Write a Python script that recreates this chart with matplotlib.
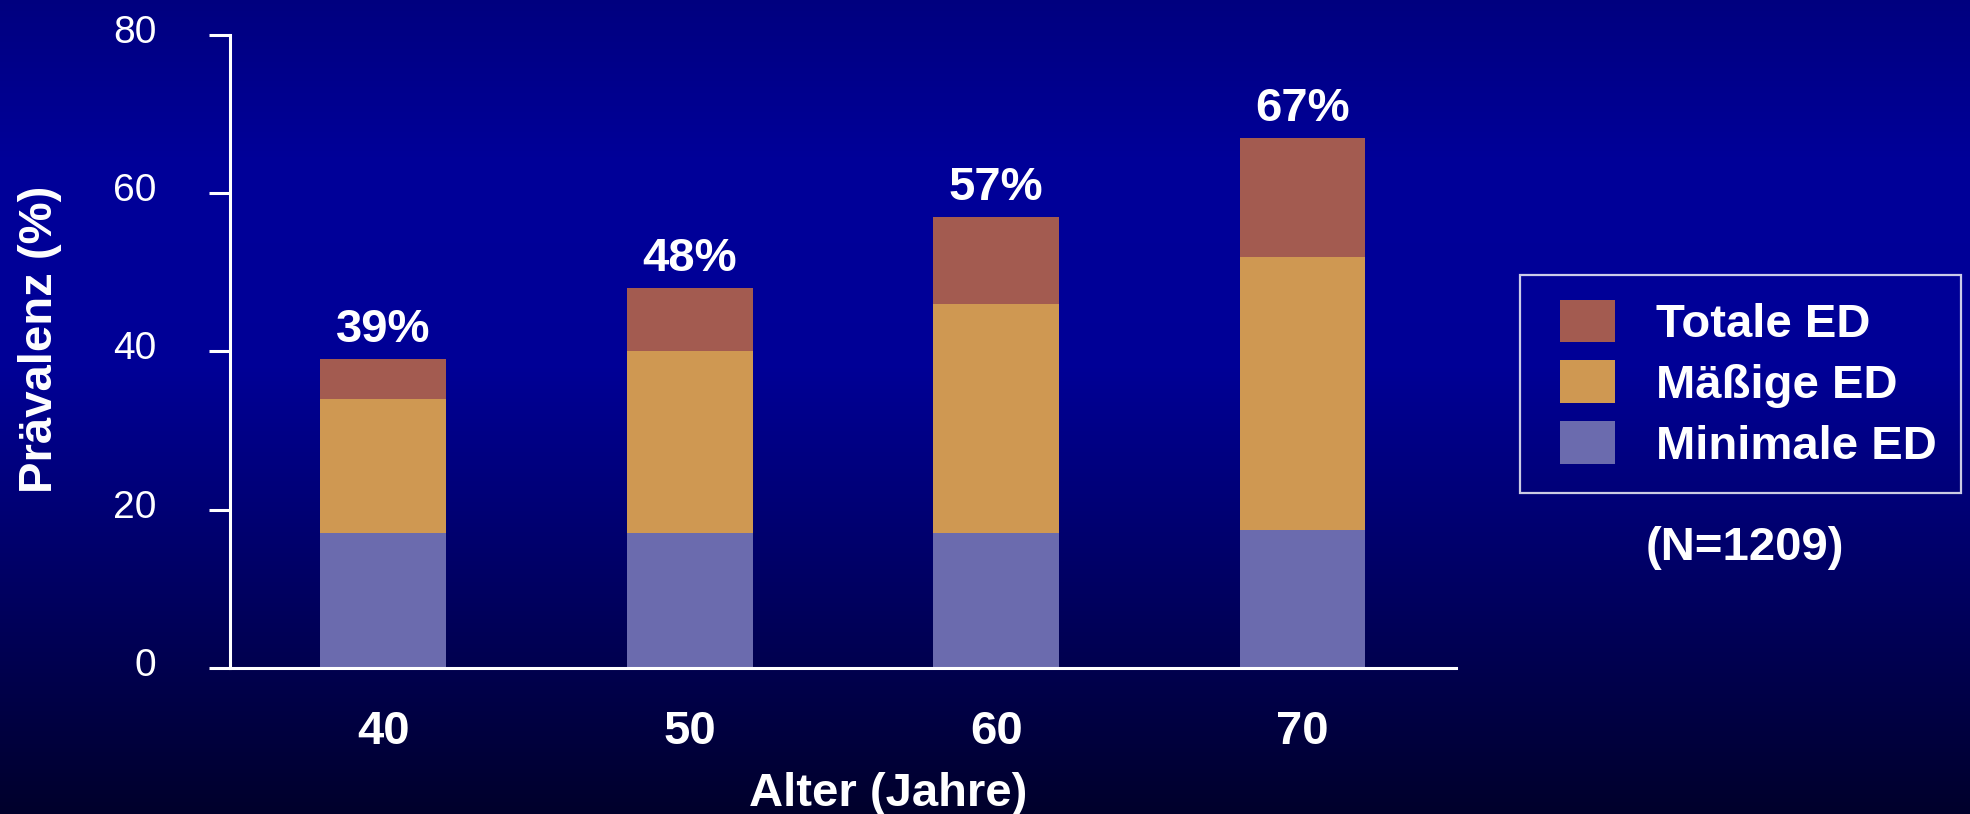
import matplotlib

matplotlib.use("Agg")

import matplotlib.pyplot as plt
import numpy as np
from matplotlib.legend_handler import HandlerPatch
from matplotlib.patches import Rectangle
from matplotlib.transforms import ScaledTranslation

# data
age_groups = ["40", "50", "60", "70"]
minimal_ed = [17.0, 17.0, 17.0, 17.5]
moderate_ed = [17.0, 23.0, 29.0, 34.5]
total_ed = [5.0, 8.0, 11.0, 15.0]
y_ticks = [0, 20, 40, 60, 80]
sample_note = "(N=1209)"

series_names = ["Minimale ED", "Mäßige ED", "Totale ED"]
series_colors = ["#6B6BAE", "#CF9852", "#A35B50"]

plt.rcParams["font.family"] = ["Liberation Sans", "DejaVu Sans"]
plt.rcParams["text.color"] = "white"

fig = plt.figure(figsize=(19.7, 8.14), dpi=100)

# vertical blue gradient behind everything
bg_ax = fig.add_axes([0, 0, 1, 1], zorder=-10)
stops_pos = [0.0, 0.2, 0.45, 0.7, 1.0]
stops_blue = [0.50, 0.60, 0.59, 0.40, 0.17]
rows = np.interp(np.linspace(0, 1, 400), stops_pos, stops_blue)
gradient = np.zeros((400, 1, 3))
gradient[:, 0, 2] = rows
bg_ax.imshow(gradient, aspect="auto", extent=[0, 1, 0, 1], interpolation="bilinear")
bg_ax.axis("off")

ax = fig.add_axes([0.1168, 0.1794, 0.6222, 0.7776])
ax.patch.set_alpha(0)

x = np.arange(len(age_groups))
bar_width = 0.41
bottom = np.zeros(len(age_groups))
handles = []
for name, values, color in zip(series_names, [minimal_ed, moderate_ed, total_ed], series_colors):
    bars = ax.bar(x, values, bar_width, bottom=bottom, color=color, label=name, linewidth=0)
    handles.append(bars.patches[0])
    bottom = bottom + np.array(values)

for xi, total in zip(x, bottom):
    ax.annotate(f"{total:.0f}%", (xi, total), xytext=(0, 5), textcoords="offset points",
                ha="center", va="bottom", fontsize=34, fontweight="bold", color="white")

ax.set_xlim(-0.5, 3.5)
ax.set_ylim(0, 80)
ax.set_xticks(x)
ax.set_xticklabels(age_groups, fontsize=34, fontweight="bold", color="white")
ax.set_yticks(y_ticks)
ax.set_yticklabels([str(t) for t in y_ticks], fontsize=28, color="white")
ax.tick_params(axis="x", length=0, pad=30)
ax.tick_params(axis="y", length=15, width=2.2, color="white", direction="out", pad=38)

for label in ax.get_yticklabels():
    label.set_transform(label.get_transform() + ScaledTranslation(0, 0.06, fig.dpi_scale_trans))

for side in ["top", "right"]:
    ax.spines[side].set_visible(False)
for side in ["left", "bottom"]:
    ax.spines[side].set_color("white")
    ax.spines[side].set_linewidth(2.2)

fig.text(888 / 1970, 1 - 806 / 814, "Alter (Jahre)", ha="center", va="baseline",
         fontsize=34, fontweight="bold")
fig.text(40 / 1970, 1 - 339 / 814, "Prävalenz (%)", rotation=90, ha="center", va="center",
         fontsize=34, fontweight="bold")

leg = fig.legend(handles[::-1], series_names[::-1], loc="upper left",
                 bbox_to_anchor=(1520 / 1970, 1 - 275 / 814),
                 prop={"weight": "bold", "size": 34}, frameon=True, fancybox=False,
                 handlelength=1.5, handleheight=1.02, handletextpad=0.85,
                 labelspacing=0.28, borderpad=0.52, borderaxespad=0,
                 handler_map={Rectangle: HandlerPatch(xpad=0.32)})
leg.get_frame().set_edgecolor("white")
leg.get_frame().set_facecolor("none")
leg.get_frame().set_linewidth(1.6)
for text in leg.get_texts():
    text.set_color("white")

fig.text(1745 / 1970, 1 - 560 / 814, sample_note, ha="center", va="baseline",
         fontsize=34, fontweight="bold")

fig.savefig("out.png", dpi=100)
